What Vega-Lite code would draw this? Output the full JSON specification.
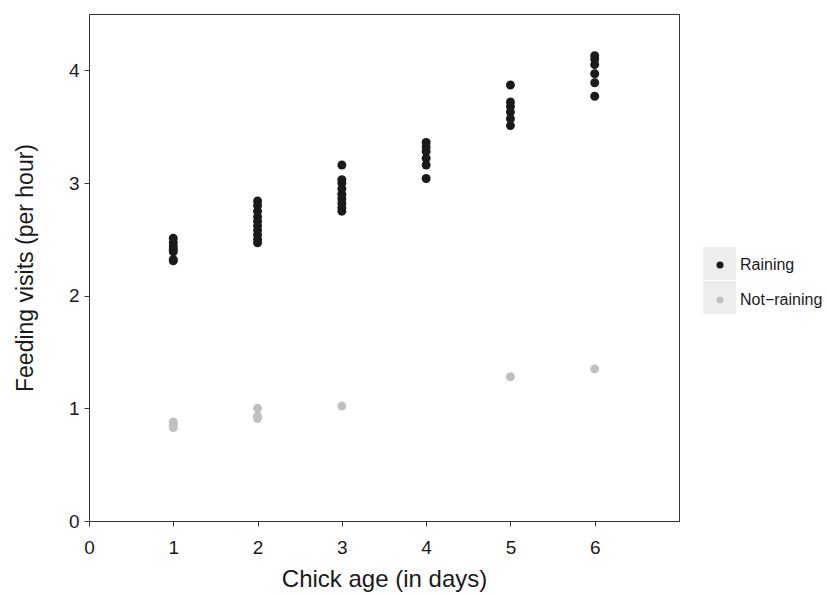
{
  "$schema": "https://vega.github.io/schema/vega-lite/v6.json",
  "width": 590,
  "height": 507,
  "autosize": {"type": "none"},
  "padding": {"left": 89, "top": 14, "right": 148, "bottom": 74},
  "background": "white",
  "config": {
    "font": "Liberation Sans",
    "view": {"stroke": "#333333", "strokeWidth": 1},
    "axis": {
      "grid": false,
      "domainColor": "#333333",
      "tickColor": "#333333",
      "tickSize": 5,
      "labelFlush": false,
      "labelFontSize": 19,
      "labelColor": "#1a1a1a",
      "titleFontSize": 24,
      "titleFontWeight": "normal",
      "titleColor": "#1a1a1a"
    }
  },
  "data": {
    "values": [
      {"age": 1, "visits": 2.51, "condition": "Raining"},
      {"age": 1, "visits": 2.47, "condition": "Raining"},
      {"age": 1, "visits": 2.44, "condition": "Raining"},
      {"age": 1, "visits": 2.41, "condition": "Raining"},
      {"age": 1, "visits": 2.39, "condition": "Raining"},
      {"age": 1, "visits": 2.32, "condition": "Raining"},
      {"age": 1, "visits": 2.31, "condition": "Raining"},
      {"age": 2, "visits": 2.84, "condition": "Raining"},
      {"age": 2, "visits": 2.80, "condition": "Raining"},
      {"age": 2, "visits": 2.75, "condition": "Raining"},
      {"age": 2, "visits": 2.70, "condition": "Raining"},
      {"age": 2, "visits": 2.66, "condition": "Raining"},
      {"age": 2, "visits": 2.62, "condition": "Raining"},
      {"age": 2, "visits": 2.58, "condition": "Raining"},
      {"age": 2, "visits": 2.54, "condition": "Raining"},
      {"age": 2, "visits": 2.50, "condition": "Raining"},
      {"age": 2, "visits": 2.47, "condition": "Raining"},
      {"age": 3, "visits": 3.16, "condition": "Raining"},
      {"age": 3, "visits": 3.03, "condition": "Raining"},
      {"age": 3, "visits": 3.00, "condition": "Raining"},
      {"age": 3, "visits": 2.95, "condition": "Raining"},
      {"age": 3, "visits": 2.90, "condition": "Raining"},
      {"age": 3, "visits": 2.86, "condition": "Raining"},
      {"age": 3, "visits": 2.82, "condition": "Raining"},
      {"age": 3, "visits": 2.78, "condition": "Raining"},
      {"age": 3, "visits": 2.75, "condition": "Raining"},
      {"age": 4, "visits": 3.36, "condition": "Raining"},
      {"age": 4, "visits": 3.32, "condition": "Raining"},
      {"age": 4, "visits": 3.28, "condition": "Raining"},
      {"age": 4, "visits": 3.22, "condition": "Raining"},
      {"age": 4, "visits": 3.16, "condition": "Raining"},
      {"age": 4, "visits": 3.04, "condition": "Raining"},
      {"age": 5, "visits": 3.87, "condition": "Raining"},
      {"age": 5, "visits": 3.72, "condition": "Raining"},
      {"age": 5, "visits": 3.68, "condition": "Raining"},
      {"age": 5, "visits": 3.63, "condition": "Raining"},
      {"age": 5, "visits": 3.57, "condition": "Raining"},
      {"age": 5, "visits": 3.51, "condition": "Raining"},
      {"age": 6, "visits": 4.13, "condition": "Raining"},
      {"age": 6, "visits": 4.10, "condition": "Raining"},
      {"age": 6, "visits": 4.05, "condition": "Raining"},
      {"age": 6, "visits": 3.97, "condition": "Raining"},
      {"age": 6, "visits": 3.89, "condition": "Raining"},
      {"age": 6, "visits": 3.77, "condition": "Raining"},
      {"age": 1, "visits": 0.88, "condition": "Not−raining"},
      {"age": 1, "visits": 0.86, "condition": "Not−raining"},
      {"age": 1, "visits": 0.83, "condition": "Not−raining"},
      {"age": 2, "visits": 1.00, "condition": "Not−raining"},
      {"age": 2, "visits": 0.93, "condition": "Not−raining"},
      {"age": 2, "visits": 0.91, "condition": "Not−raining"},
      {"age": 3, "visits": 1.02, "condition": "Not−raining"},
      {"age": 5, "visits": 1.28, "condition": "Not−raining"},
      {"age": 6, "visits": 1.35, "condition": "Not−raining"}
    ]
  },
  "encoding": {
    "x": {
      "field": "age",
      "type": "quantitative",
      "scale": {"domain": [0, 7], "nice": false, "zero": false},
      "axis": {"values": [0, 1, 2, 3, 4, 5, 6], "title": "Chick age (in days)", "labelPadding": 12, "titlePadding": 10}
    },
    "y": {
      "field": "visits",
      "type": "quantitative",
      "scale": {"domain": [0, 4.5], "nice": false, "zero": false},
      "axis": {"values": [0, 1, 2, 3, 4], "title": "Feeding visits (per hour)", "labelPadding": 5, "titlePadding": 31, "titleFontSize": 23}
    }
  },
  "layer": [
    {
      "mark": {"type": "point", "filled": true, "opacity": 0, "color": "#ededed"},
      "encoding": {
        "shape": {
          "field": "condition",
          "type": "nominal",
          "scale": {"domain": ["Not−raining", "Raining"], "range": ["square", "square"]},
          "legend": {
            "orient": "none",
            "legendX": 614,
            "legendY": 233,
            "padding": 0,
            "title": null,
            "zindex": 0,
            "symbolSize": 1089,
            "symbolFillColor": "#ededed",
            "symbolStrokeColor": "#ededed",
            "symbolStrokeWidth": 0,
            "symbolOpacity": 1,
            "rowPadding": 1,
            "labelExpr": "''",
            "labelOffset": 0,
            "encode": {"symbols": {"update": {"fill": {"value": "#ededed"}, "stroke": {"value": "#ededed"}, "opacity": {"value": 1}}}}
          }
        }
      }
    },
    {
      "mark": {"type": "circle", "size": 80, "opacity": 1},
      "encoding": {
        "color": {
          "field": "condition",
          "type": "nominal",
          "scale": {"domain": ["Raining", "Not−raining"], "range": ["#1a1a1a", "#c0c0c0"]},
          "legend": {
            "orient": "none",
            "legendX": 623,
            "legendY": 243,
            "padding": 0,
            "title": null,
            "zindex": 1,
            "symbolSize": 50,
            "symbolType": "circle",
            "symbolOpacity": 1,
            "rowPadding": 19,
            "labelFontSize": 16,
            "labelColor": "#1a1a1a",
            "labelOffset": 12
          }
        }
      }
    }
  ]
}
